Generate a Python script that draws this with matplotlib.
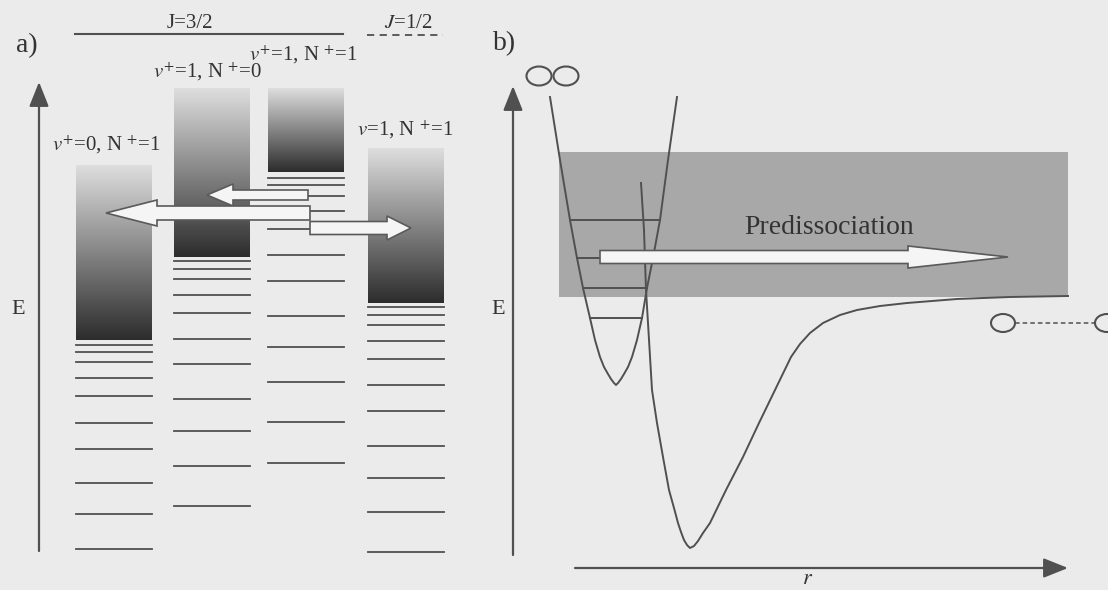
import numpy as np
import matplotlib
matplotlib.use("Agg")
import matplotlib.pyplot as plt
from matplotlib.patches import FancyArrow, Ellipse, Rectangle
from matplotlib.colors import LinearSegmentedColormap

# Canvas is laid out in pixel units (x right, y down) of the 1108x590 scan
W, H = 1108, 590
BG = "#ebebeb"
INK = "#505050"
TXT = "#333333"

plt.rcParams["font.family"] = ["Liberation Serif", "DejaVu Serif"]
plt.rcParams["mathtext.fontset"] = "stix"

# ---- panel a) : Rydberg series converging on four ionisation limits ----
col_left = [76, 174, 268, 368]
col_width = 76
cont_top = [165, 88, 88, 148]
cont_bottom = [340, 257, 172, 303]
levels = [
    [345, 352, 362, 378, 396, 423, 449, 483, 514, 549],
    [261, 269, 279, 295, 313, 339, 364, 399, 431, 466, 506],
    [178, 185, 196, 211, 229, 255, 281, 316, 347, 382, 422, 463],
    [307, 315, 325, 341, 359, 385, 411, 446, 478, 512, 552],
]
col_labels = ["$v^{+}$=0, N $^{+}$=1", "$v^{+}$=1, N $^{+}$=0",
              "$v^{+}$=1, N $^{+}$=1", "$v$=1, N $^{+}$=1"]
col_label_xy = [(106, 145), (207, 72), (303, 55), (405, 130)]

# coupling arrows: (tail x, tip x, y) and (shaft, head width, head length)
a_arrows = [(308, 207, 195), (310, 106, 213), (310, 411, 228)]
a_arrow_dims = [(10, 22, 26), (14, 26, 51), (13, 24, 24)]

# ---- panel b) : potential curves ----
upper_x = [550, 560, 570, 577, 583, 590, 595, 600, 604, 608, 611, 614, 616,
           618, 621, 624, 628, 632, 637, 642, 647, 653, 660, 668, 677]
upper_y = [97, 160, 220, 258, 288, 318, 340, 357, 367, 374, 379, 383, 385,
           383, 379, 374, 367, 357, 340, 318, 288, 258, 220, 160, 97]
lower_x = [641, 644, 646, 648, 652, 657, 663, 669, 674, 678, 681, 684, 687,
           690, 694, 698, 703, 710, 726, 743, 759, 775, 791, 800, 810, 823,
           840, 857, 880, 907, 957, 1010, 1068]
lower_y = [183, 230, 290, 323, 390, 423, 457, 490, 508, 523, 532, 540, 545,
           548, 546, 541, 533, 523, 490, 457, 423, 390, 357, 344, 333, 323,
           315, 310, 306, 303, 299, 297, 296]
vib_y = [220, 258, 288, 318]
vib_x0 = [570, 577, 583, 590]
vib_x1 = [660, 600, 647, 642]

fig = plt.figure(figsize=(W / 100, H / 100), dpi=100, facecolor=BG)
ax = fig.add_axes([0, 0, 1, 1])
ax.set_facecolor(BG)

cmap = LinearSegmentedColormap.from_list("cont", ["#dedede", "#2c2c2c"])
grad = np.linspace(0, 1, 256).reshape(-1, 1)
for x0, top, bot in zip(col_left, cont_top, cont_bottom):
    ax.imshow(grad, cmap=cmap, extent=(x0, x0 + col_width, bot, top),
              aspect="auto", interpolation="bilinear", zorder=1)

for x0, lv in zip(col_left, levels):
    for y in lv:
        ax.plot([x0, x0 + col_width], [y, y], color=INK, lw=1.3, zorder=2)

for (x, y), s in zip(col_label_xy, col_labels):
    ax.text(x, y, s, fontsize=15, color=TXT, ha="center", va="center", zorder=5)

# J limits
ax.plot([75, 343], [34, 34], color=INK, lw=1.5, zorder=2)
ax.plot([367, 443], [35, 35], color=INK, lw=1.3, ls=(0, (4, 3)), zorder=2)
ax.text(190, 23, "J=3/2", fontsize=15, color=TXT, ha="center", va="center")
ax.text(408, 23, "$J$=1/2", fontsize=15, color=TXT, ha="center", va="center")

for (t, tip, y), (w, hw, hl) in zip(a_arrows, a_arrow_dims):
    ax.add_patch(FancyArrow(t, y, tip - t, 0, width=w, head_width=hw,
                            head_length=hl, length_includes_head=True,
                            fc="#f5f5f5", ec="#5a5a5a", lw=1.2, zorder=4))

# energy and distance axes
arrow_kw = dict(arrowstyle="-|>,head_length=0.75,head_width=0.3", color=INK,
                lw=1.6, mutation_scale=20, shrinkA=0, shrinkB=0)
ax.annotate("", xy=(39, 82), xytext=(39, 551), arrowprops=arrow_kw, zorder=3)
ax.annotate("", xy=(513, 86), xytext=(513, 555), arrowprops=arrow_kw, zorder=3)
ax.annotate("", xy=(1068, 568), xytext=(575, 568), arrowprops=arrow_kw, zorder=3)
ax.text(18, 310, "E", fontsize=16, color=TXT, ha="center", va="center")
ax.text(498, 310, "E", fontsize=16, color=TXT, ha="center", va="center")
ax.text(808, 589, "$r$", fontsize=16, color=TXT, ha="center", va="bottom")

ax.text(27, 46, "a)", fontsize=20, color=TXT, ha="center", va="center")
ax.text(505, 44, "b)", fontsize=20, color=TXT, ha="center", va="center")

# panel b) continuum band
ax.add_patch(Rectangle((559, 152), 1068 - 559, 297 - 152, fc="#a8a8a8",
                       ec="none", zorder=1))

ax.plot(upper_x, upper_y, color=INK, lw=1.4, zorder=3)
ax.plot(lower_x, lower_y, color=INK, lw=1.4, zorder=3)
for y, x0, x1 in zip(vib_y, vib_x0, vib_x1):
    ax.plot([x0, x1], [y, y], color=INK, lw=1.4, zorder=3)

ax.add_patch(FancyArrow(600, 257, 1008 - 600, 0, width=13, head_width=22,
                        head_length=100, length_includes_head=True,
                        fc="#f5f5f5", ec="#5a5a5a", lw=1.2, zorder=4))
ax.text(829, 227, "Predissociation", fontsize=20, color=TXT,
        ha="center", va="center", zorder=5)

# atoms: bound pair at top, separated pair at right
ax.add_patch(Ellipse((539, 76), 25, 19, fc="none", ec=INK, lw=1.5, zorder=3))
ax.add_patch(Ellipse((566, 76), 25, 19, fc="none", ec=INK, lw=1.5, zorder=3))
ax.add_patch(Ellipse((1003, 323), 24, 18, fc="none", ec=INK, lw=1.5, zorder=3))
ax.add_patch(Ellipse((1107, 323), 24, 18, fc="none", ec=INK, lw=1.5, zorder=3))
ax.plot([1015, 1095], [323, 323], color=INK, lw=1.1, ls=(0, (3, 2)), zorder=3)

ax.set_xlim(0, W)
ax.set_ylim(H, 0)
ax.set_aspect("auto")
ax.axis("off")

fig.savefig("out.png", dpi=100, facecolor=BG)
